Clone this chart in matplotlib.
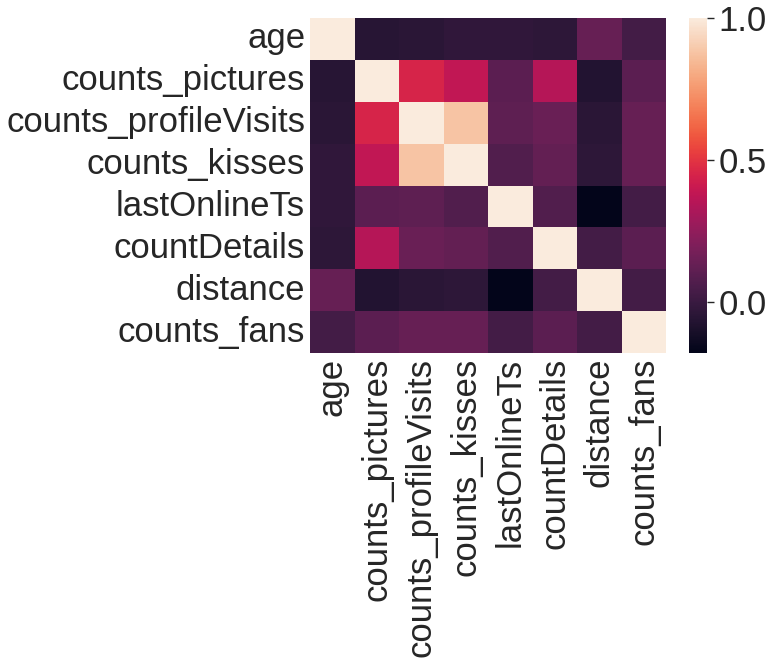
import matplotlib
matplotlib.use("Agg")
import matplotlib.pyplot as plt
import numpy as np
import pandas as pd
import seaborn as sns

labels = ["age", "counts_pictures", "counts_profileVisits", "counts_kisses",
          "lastOnlineTs", "countDetails", "distance", "counts_fans"]

# upper triangle of the correlation matrix, row by row
row_age = [1.0, -0.06, -0.05, -0.03, -0.03, -0.04, 0.13, 0.03]
row_pictures = [1.0, 0.45, 0.38, 0.10, 0.35, -0.07, 0.10]
row_visits = [1.0, 0.88, 0.11, 0.14, -0.05, 0.13]
row_kisses = [1.0, 0.07, 0.12, -0.04, 0.13]
row_online = [1.0, 0.07, -0.18, 0.03]
row_details = [1.0, 0.03, 0.10]
row_distance = [1.0, 0.03]
row_fans = [1.0]

rows = [row_age, row_pictures, row_visits, row_kisses,
        row_online, row_details, row_distance, row_fans]
n = len(labels)
corr = np.zeros((n, n))
for i, r in enumerate(rows):
    corr[i, i:] = r
    corr[i:, i] = r
df = pd.DataFrame(corr, index=labels, columns=labels)

sns.set_theme(style="white", font_scale=2)
plt.rcParams['font.family'] = ['Liberation Sans', 'DejaVu Sans']

fig = plt.figure(figsize=(7.73, 6.68), dpi=100)
ax = fig.add_axes([310 / 773, 1 - 353 / 668, 356 / 773, 335 / 668])
cax = fig.add_axes([689 / 773, 1 - 353 / 668, 18 / 773, 335 / 668])

sns.heatmap(df, ax=ax, cbar_ax=cax, cmap="rocket")
ax.tick_params(length=0, labelsize=25)
ax.set_xticklabels(labels, rotation=90)
ax.set_yticklabels(labels, rotation=0)
cax.tick_params(labelsize=25, length=5, width=1)
cax.set_yticks([0.0, 0.5, 1.0])
for s in cax.spines.values():
    s.set_visible(False)

fig.savefig("out.png", dpi=100)
